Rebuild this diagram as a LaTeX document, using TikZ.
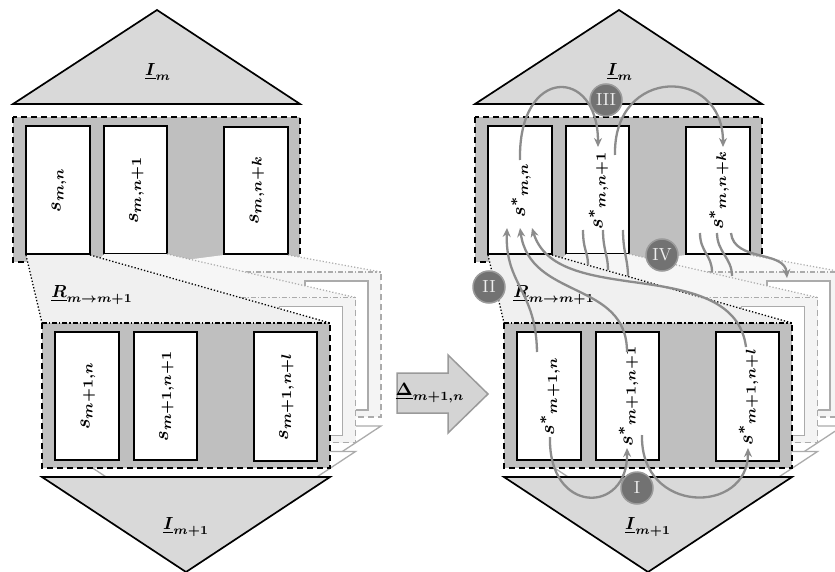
\documentclass[tikz,border=0pt]{standalone}
\usetikzlibrary{arrows.meta}
\definecolor{trifill}{HTML}{D9D9D9}
\definecolor{boxfill}{HTML}{BFBFBF}
\definecolor{beamA}{HTML}{F0F0F0}
\definecolor{beamB}{HTML}{F6F6F6}
\definecolor{beamC}{HTML}{F9F9F9}
\definecolor{backline}{HTML}{ABABAB}
\definecolor{backfill}{HTML}{F4F4F4}
\definecolor{arrowgray}{HTML}{8C8C8C}
\definecolor{circfill}{HTML}{727272}
\definecolor{circline}{HTML}{9A9A9A}
\definecolor{circtext}{HTML}{EEEEEE}
\definecolor{deltafill}{HTML}{D4D4D4}

\newcommand\lowerlayer[4]{%
  \fill[#2] (42,323) rectangle (330,468);
  \draw[#1, line width=#3, dash pattern=on 6pt off 4pt] (42,323) -- (42,468) -- (330,468) -- (330,323);
  \draw[#1, line width=#3, dash pattern=on 5pt off 2pt on 1.2pt off 2pt] (42,323) -- (330,323);
  \draw[#1, line width=#3, fill=white] (55,332) rectangle (119,460);
  \draw[#1, line width=#3, fill=white] (134,332) rectangle (197,460);
  \draw[#1, line width=#3, fill=white] (254,332) rectangle (317,461);
  \draw[#1, line width=#3, fill=#4, line join=miter] (42,477) -- (330,477) -- (186,572) -- cycle;
}

\newcommand\drawpanel[7]{%
  \draw[line width=1.7pt, fill=trifill, line join=miter] (13,104) -- (300,104) -- (157,10) -- cycle;
  \node[lbl] (#1Im) at (158,72) {$\underline{I}_m$};
  \fill[boxfill] (13,117) rectangle (300,262);
  \draw[line width=1.7pt, dash pattern=on 6pt off 4pt] (13,117) rectangle (300,262);
  \draw[line width=1.7pt, fill=white] (26,126) rectangle (90,254);
  \draw[line width=1.7pt, fill=white] (104,126) rectangle (167,254);
  \draw[line width=1.7pt, fill=white] (224,127) rectangle (288,254);
  \node[slbl] (#1s1) at (59,190) {#2};
  \node[slbl] (#1s2) at (136.5,190) {#3};
  \node[slbl] (#1s3) at (257,190.5) {#4};
  % beam to back layer 3
  \fill[beamC] (224,255) -- (288,255) -- (381,272) -- (93,272) -- cycle;
  \draw[backline, line width=1.2pt, dash pattern=on 1.2pt off 2pt] (288,255) -- (381,272);
  \begin{scope}[shift={(51,-51)}]\lowerlayer{backline}{backfill}{1.3pt}{white}\end{scope}
  % beam to back layer 2
  \fill[beamB] (104,254) -- (167,254) -- (355.5,297.5) -- (67.5,297.5) -- cycle;
  \draw[backline, line width=1.2pt, dash pattern=on 1.2pt off 2pt] (167,254) -- (355.5,297.5);
  \begin{scope}[shift={(25.5,-25.5)}]\lowerlayer{backline}{backfill}{1.3pt}{white}\end{scope}
  % beam to front layer
  \fill[beamA] (26,255) -- (90,255) -- (330,323) -- (42,323) -- cycle;
  \draw[black, line width=1.3pt, dash pattern=on 1.3pt off 2pt] (26,255) -- (42,323) (90,255) -- (330,323);
  \lowerlayer{black}{boxfill}{1.7pt}{trifill}
  \node[slbl] (#1b1) at (88,396) {#5};
  \node[slbl] (#1b2) at (166.5,396) {#6};
  \node[slbl] (#1b3) at (286.5,396.5) {#7};
  \node[lbl] (#1R) at (92,295) {$\underline{R}_{m\rightarrow m+1}$};
  \node[lbl] (#1Imm) at (186,527) {$\underline{I}_{m+1}$};
}

\begin{document}
\begin{tikzpicture}[x=1pt,y=-1pt,
  lbl/.style={inner sep=0pt, scale=1.75, font=\boldmath},
  slbl/.style={inner sep=0pt, rotate=90, scale=2.0, font=\boldmath},
  conn/.style={draw=arrowgray, line width=2.3pt, -{Stealth[length=9pt,width=8pt]}},
  plain/.style={draw=arrowgray, line width=2.3pt},
  circ/.style={circle, fill=circfill, draw=circline, line width=1.5pt, minimum size=32pt, inner sep=0pt, text=circtext}]
\useasboundingbox (0,0) rectangle (835,572);

\drawpanel{L}{$s_{m,n}$}{$s_{m,n+1}$}{$s_{m,n+k}$}{$s_{m+1,n}$}{$s_{m+1,n+1}$}{$s_{m+1,n+l}$}
\begin{scope}[shift={(462,0)}]
\drawpanel{P}{${s^{*}}_{m,n}$}{${s^{*}}_{m,n+1}$}{${s^{*}}_{m,n+k}$}{${s^{*}}_{m+1,n}$}{${s^{*}}_{m+1,n+1}$}{${s^{*}}_{m+1,n+l}$}
\end{scope}

% transformation arrow
\draw[draw=circline, fill=deltafill, line width=1.5pt, line join=miter] (397,373) -- (448,373) -- (448,355) -- (488,394) -- (448,433) -- (448,413) -- (397,413) -- cycle;
\node[inner sep=0pt, scale=1.8, font=\boldmath] (delta) at (430,393) {$\underline{\Delta}_{m+1,n}$};

% III
\coordinate (a1s) at (520,160); \coordinate (a1e) at (598,147);
\coordinate (a2s) at (615,155); \coordinate (a2e) at (723,147);
\draw[conn] (a1s) .. controls (518,66) and (598,66) .. (a1e);
\draw[conn] (a2s) .. controls (613,66) and (723,66) .. (a2e);
% I
\coordinate (b1s) at (550,437); \coordinate (b1e) at (627,448);
\coordinate (b2s) at (642,435); \coordinate (b2e) at (748,448);
\draw[conn] (b1s) .. controls (548,515) and (628,515) .. (b1e);
\draw[conn] (b2s) .. controls (640,515) and (748,515) .. (b2e);
% II
\coordinate (c1s) at (537,352); \coordinate (c1e) at (507,228);
\coordinate (c2s) at (627,352); \coordinate (c2e) at (520,228);
\coordinate (c3s) at (746,347); \coordinate (c3m) at (640,283); \coordinate (c3e) at (532,228);
\draw[conn] (c1s) .. controls (536,290) and (505,285) .. (c1e);
\draw[conn] (c2s) .. controls (627,280) and (530,300) .. (c2e);
\draw[conn] (c3s) .. controls (740,300) and (690,290) .. (c3m) .. controls (590,276) and (545,270) .. (c3e);
% IV
\coordinate (d1s) at (583,230); \coordinate (d1e) at (588,265);
\coordinate (d2s) at (603,230); \coordinate (d2e) at (608,270);
\coordinate (d3s) at (623,230); \coordinate (d3e) at (628,276);
\coordinate (d4s) at (700,233); \coordinate (d4e) at (712,272);
\coordinate (d5s) at (717,233); \coordinate (d5e) at (732,276);
\coordinate (d6s) at (731,233); \coordinate (d6e) at (787,278);
\draw[plain] (d1s) .. controls (583,250) and (588,252) .. (d1e);
\draw[plain] (d2s) .. controls (603,250) and (608,255) .. (d2e);
\draw[plain] (d3s) .. controls (623,252) and (628,260) .. (d3e);
\draw[plain] (d4s) .. controls (700,252) and (712,255) .. (d4e);
\draw[plain] (d5s) .. controls (717,252) and (732,258) .. (d5e);
\draw[conn] (d6s) .. controls (734,262) and (785,250) .. (d6e);

\node[circ] (cIII) at (606,100) {\scalebox{1.75}{III}};
\node[circ] (cIV) at (662,255) {\scalebox{1.75}{IV}};
\node[circ] (cII) at (489,287) {\scalebox{1.75}{II}};
\node[circ] (cI) at (637,488) {\scalebox{1.75}{I}};
\end{tikzpicture}
\end{document}
